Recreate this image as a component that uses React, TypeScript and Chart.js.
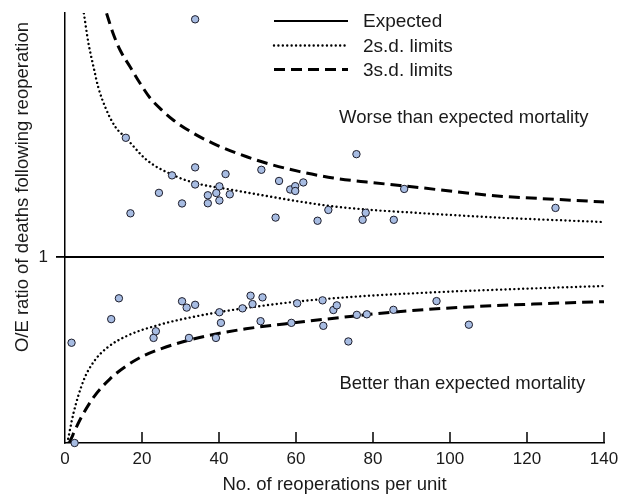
import { useEffect, useRef } from 'react';
import { Chart, registerables } from 'chart.js';

Chart.register(...registerables);

// ---- Data ----
// Units: number of reoperations (x) and observed/expected ratio of deaths (y)
const unitReoperations = [
  15.8, 17.0, 24.4, 27.8, 30.4, 33.8, 33.8, 33.8, 37.1, 37.1, 39.3, 40.1, 40.1, 41.7, 42.8,
  51.0, 54.7, 55.6, 58.5, 59.8, 59.8, 61.9, 65.6, 68.4, 75.7, 77.3, 78.1, 85.4, 88.1, 127.4,
  1.7, 2.5, 12.0, 14.0, 23.0, 23.6, 30.4, 31.6, 32.2, 33.8, 39.2, 40.1, 40.5, 46.1, 48.2,
  48.7, 50.8, 51.3, 58.8, 60.3, 66.9, 67.1, 69.7, 70.6, 73.6, 75.8, 78.4, 85.3, 96.5, 104.9,
];
const unitOERatio = [
  1.641, 1.235, 1.345, 1.439, 1.288, 2.278, 1.482, 1.39, 1.332, 1.289, 1.344, 1.38, 1.304, 1.446, 1.337,
  1.469, 1.212, 1.409, 1.363, 1.381, 1.355, 1.401, 1.195, 1.253, 1.553, 1.2, 1.238, 1.2, 1.366, 1.264,
  0.539, 0.0, 0.666, 0.778, 0.565, 0.601, 0.762, 0.728, 0.565, 0.743, 0.565, 0.703, 0.646, 0.724, 0.792,
  0.747, 0.655, 0.783, 0.646, 0.751, 0.767, 0.63, 0.715, 0.74, 0.546, 0.689, 0.692, 0.716, 0.763, 0.636,
];

const expectedX = [0, 140];
const expectedY = [1, 1];

const sd2UpperX = [4.9, 6.1, 7.4, 8.6, 10.4, 13.0, 15.8, 21.2, 27.8, 33.8, 43.7, 52.4, 61.0, 69.7, 78.4, 87.0, 110.4, 140];
const sd2UpperY = [2.31, 2.149, 2.023, 1.916, 1.808, 1.702, 1.641, 1.522, 1.443, 1.398, 1.36, 1.328, 1.298, 1.272, 1.255, 1.243, 1.214, 1.188];

const sd3UpperX = [10.8, 12.5, 14.3, 16.9, 19.5, 22.1, 25.1, 28.1, 33.3, 39.4, 47.2, 52.4, 61.0, 69.7, 78.4, 87.0, 113, 127.7, 140];
const sd3UpperY = [2.31, 2.202, 2.113, 2.023, 1.934, 1.855, 1.791, 1.737, 1.666, 1.602, 1.539, 1.504, 1.459, 1.425, 1.403, 1.385, 1.327, 1.31, 1.296];

const sd2LowerX = [0.6, 2.2, 4.8, 7.4, 10.8, 16.0, 24.7, 33.3, 39.8, 48.5, 61.0, 69.7, 78.4, 87.0, 100, 121.6, 140];
const sd2LowerY = [0, 0.16, 0.335, 0.435, 0.51, 0.575, 0.637, 0.678, 0.703, 0.73, 0.762, 0.778, 0.791, 0.801, 0.814, 0.831, 0.844];

const sd3LowerX = [1.1, 3.9, 7.4, 11.7, 16, 20, 24.7, 32.2, 39.2, 47, 58.8, 75.8, 85.3, 100, 121.6, 140];
const sd3LowerY = [0, 0.125, 0.245, 0.345, 0.415, 0.465, 0.505, 0.553, 0.586, 0.614, 0.645, 0.684, 0.704, 0.726, 0.747, 0.76];

const xMin = 0;
const xMax = 140;
const xStep = 20;
const yMin = 0;
const yMax = 2.312;
const yTickValues = [1];
const yTickLabels = ['1'];

const seriesLabels = ['Expected', '2s.d. limits', '3s.d. limits'];
const regionLabels = ['Worse than expected mortality', 'Better than expected mortality'];
const xTitle = 'No. of reoperations per unit';
const yTitle = 'O/E ratio of deaths following reoperation';

const FONT = '"Liberation Sans", Arial, Helvetica, sans-serif';
const TEXT = '#1a1a1a';

const toPoints = (xs: number[], ys: number[]) => xs.map((x, i) => ({ x, y: ys[i] }));

const overlayPlugin = {
  id: 'overlay',
  afterDraw(chart: any) {
    const { ctx, chartArea, scales } = chart;
    const xs = scales.x;
    const ys = scales.y;
    ctx.save();

    // inward x-axis tick marks
    ctx.strokeStyle = '#000';
    ctx.lineWidth = 1.5;
    xs.ticks.forEach((t: any) => {
      if (t.value === xMin) return;
      const px = xs.getPixelForValue(t.value);
      ctx.beginPath();
      ctx.moveTo(px, chartArea.bottom);
      ctx.lineTo(px, chartArea.bottom - 11);
      ctx.stroke();
    });

    // y-axis title
    ctx.fillStyle = TEXT;
    ctx.font = `18.5px ${FONT}`;
    ctx.textAlign = 'center';
    ctx.textBaseline = 'middle';
    ctx.save();
    ctx.translate(chartArea.left - 42.5, chartArea.top + 174);
    ctx.rotate(-Math.PI / 2);
    ctx.fillText(yTitle, 0, 0);
    ctx.restore();

    // region labels
    ctx.font = `18.5px ${FONT}`;
    ctx.fillText(regionLabels[0], xs.getPixelForValue(103.6), ys.getPixelForValue(1.747));
    ctx.fillText(regionLabels[1], xs.getPixelForValue(103.2), ys.getPixelForValue(0.317));

    // legend
    const lineDatasets = chart.data.datasets.slice(1, 4);
    const rowY = [8, 32.5, 56.5];
    const x0 = chartArea.left + 209;
    const x1 = chartArea.left + 283;
    const tx = chartArea.left + 298;
    ctx.font = `19px ${FONT}`;
    ctx.textAlign = 'left';
    lineDatasets.forEach((ds: any, i: number) => {
      const y = chartArea.top + rowY[i];
      ctx.save();
      ctx.strokeStyle = ds.borderColor;
      ctx.lineWidth = ds.borderWidth;
      ctx.lineCap = ds.borderCapStyle || 'butt';
      ctx.setLineDash(ds.borderDash || []);
      ctx.beginPath();
      ctx.moveTo(x0, y);
      ctx.lineTo(x1, y);
      ctx.stroke();
      ctx.restore();
      ctx.fillStyle = TEXT;
      ctx.fillText(ds.label, tx, y + 1);
    });

    ctx.restore();
  },
};

export default function App() {
  const canvasRef = useRef<HTMLCanvasElement | null>(null);

  useEffect(() => {
    const canvas = canvasRef.current;
    if (!canvas) return;

    const dotted = {
      borderColor: '#000',
      borderWidth: 2.4,
      borderDash: [0.01, 4.4],
      borderCapStyle: 'round',
    };
    const dashed = {
      borderColor: '#000',
      borderWidth: 3,
      borderDash: [11, 6],
      borderCapStyle: 'butt',
    };
    const lineCommon = {
      showLine: true,
      pointRadius: 0,
      pointHoverRadius: 0,
      fill: false,
      cubicInterpolationMode: 'monotone',
    };

    const chart = new Chart(canvas, {
      type: 'scatter',
      data: {
        datasets: [
          {
            label: 'Units',
            data: toPoints(unitReoperations, unitOERatio),
            pointRadius: 3.7,
            pointBorderWidth: 1,
            backgroundColor: '#a7bce2',
            borderColor: '#1c1c2a',
            pointBackgroundColor: '#a7bce2',
            pointBorderColor: '#1c1c2a',
            clip: false,
          } as any,
          {
            label: seriesLabels[0],
            data: toPoints(expectedX, expectedY),
            ...lineCommon,
            borderColor: '#000',
            borderWidth: 2.2,
            borderDash: [],
            cubicInterpolationMode: 'default',
          } as any,
          { label: seriesLabels[1], data: toPoints(sd2UpperX, sd2UpperY), ...lineCommon, ...dotted } as any,
          { label: seriesLabels[2], data: toPoints(sd3UpperX, sd3UpperY), ...lineCommon, ...dashed } as any,
          { label: seriesLabels[1] + ' ', data: toPoints(sd2LowerX, sd2LowerY), ...lineCommon, ...dotted } as any,
          { label: seriesLabels[2] + ' ', data: toPoints(sd3LowerX, sd3LowerY), ...lineCommon, ...dashed } as any,
        ],
      },
      options: {
        animation: false,
        responsive: false,
        devicePixelRatio: 1,
        events: [],
        layout: { padding: { left: 0, right: 15, top: 13, bottom: 0 } },
        plugins: {
          legend: { display: false },
          tooltip: { enabled: false },
        },
        scales: {
          x: {
            type: 'linear',
            min: xMin,
            max: xMax,
            ticks: {
              stepSize: xStep,
              padding: 6,
              color: TEXT,
              font: { family: FONT, size: 17 },
              maxRotation: 0,
            },
            grid: { display: true, drawOnChartArea: false, drawTicks: false },
            border: { display: true, color: '#000', width: 1.5 },
            title: {
              display: true,
              text: xTitle,
              color: TEXT,
              font: { family: FONT, size: 18.5 },
              padding: { top: 0, bottom: 2 },
            },
            afterFit: (s: any) => {
              s.height = 55;
              s.paddingLeft = 0;
              s.paddingRight = 0;
            },
          },
          y: {
            type: 'linear',
            min: yMin,
            max: yMax,
            afterBuildTicks: (s: any) => {
              s.ticks = yTickValues.map((v) => ({ value: v }));
            },
            ticks: {
              padding: 8,
              color: TEXT,
              font: { family: FONT, size: 17 },
              callback: (v: any) => {
                const i = yTickValues.indexOf(Number(v));
                return i >= 0 ? yTickLabels[i] : '';
              },
            },
            grid: {
              display: true,
              drawOnChartArea: false,
              drawTicks: true,
              tickLength: 9,
              color: '#000',
              lineWidth: 1.8,
            },
            border: { display: true, color: '#000', width: 1.5 },
            title: { display: false },
            afterFit: (s: any) => {
              s.width = 65;
              s.paddingTop = 0;
              s.paddingBottom = 0;
            },
          },
        },
      } as any,
      plugins: [overlayPlugin],
    });

    return () => {
      chart.destroy();
    };
  }, []);

  return (
    <div style={{ position: 'fixed', left: 0, top: 0, width: 619, height: 498, background: '#fff' }}>
      <canvas ref={canvasRef} width={619} height={498} style={{ display: 'block' }} />
    </div>
  );
}
